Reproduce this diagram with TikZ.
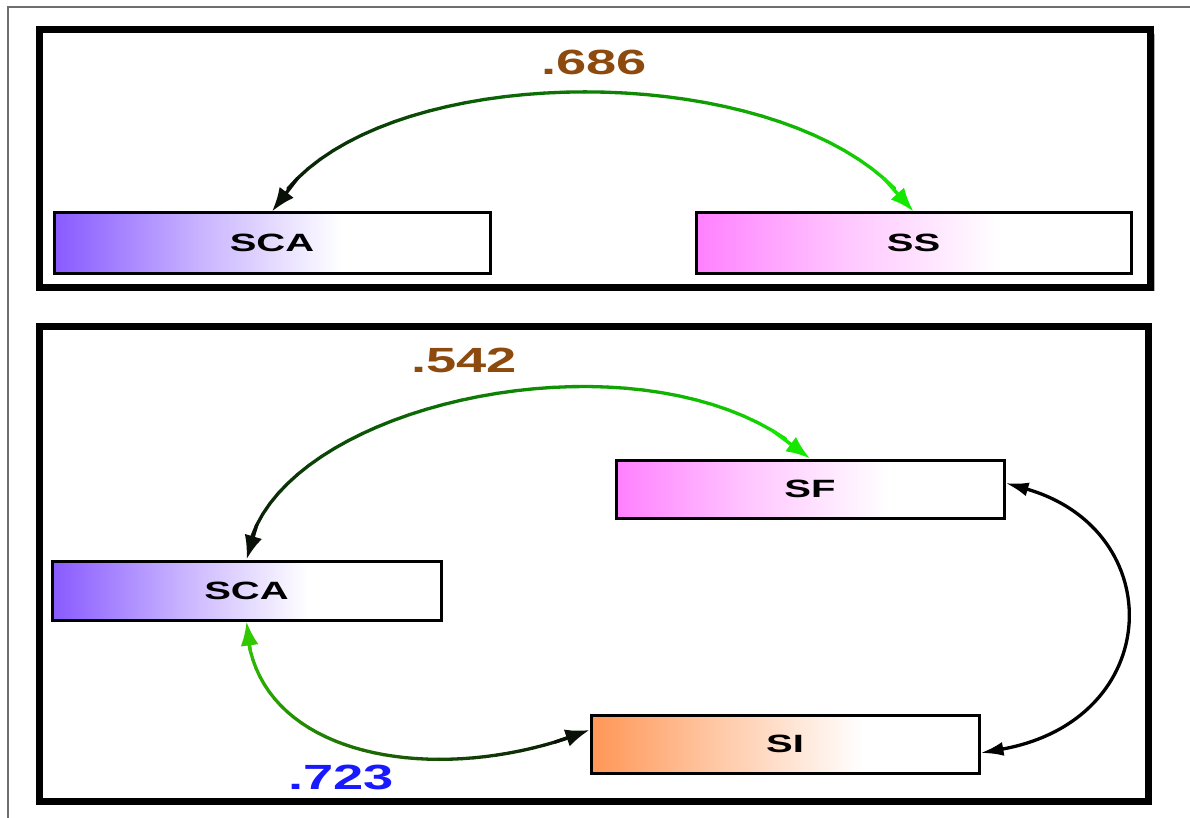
\documentclass[tikz,border=0pt]{standalone}
\usepackage{fontspec}
\setmainfont{Liberation Sans}
\usetikzlibrary{arrows.meta,calc,shadows}
\definecolor{brn}{RGB}{140,74,14}
\definecolor{blu}{RGB}{25,25,255}
\definecolor{purp}{RGB}{136,90,255}
\definecolor{pnk}{RGB}{255,128,255}
\definecolor{orng}{RGB}{255,150,85}
\definecolor{gbright}{RGB}{20,232,0}
\definecolor{gmid}{RGB}{50,200,0}
\definecolor{dk}{RGB}{8,16,8}
\definecolor{frm}{RGB}{110,110,110}
\pgfdeclarehorizontalshading{purpshade}{100bp}{color(0bp)=(purp); color(25bp)=(purp); color(42bp)=(purp!45!white); color(58bp)=(white); color(100bp)=(white)}
\pgfdeclarehorizontalshading{pnkshade}{100bp}{color(0bp)=(pnk); color(25bp)=(pnk); color(42bp)=(pnk!45!white); color(60bp)=(white); color(100bp)=(white)}
\pgfdeclarehorizontalshading{orngshade}{100bp}{color(0bp)=(orng); color(25bp)=(orng); color(42bp)=(orng!50!white); color(60bp)=(white); color(100bp)=(white)}
\newcommand{\LblS}[1]{\scalebox{1.6}[1]{#1}}
\newcommand{\NumS}[1]{\scalebox{1.55}[1]{#1}}
\tikzset{
  panel/.style={draw=black, line width=7pt, fill=white,
    drop shadow={shadow xshift=4pt, shadow yshift=-4pt, opacity=0.3, fill=black}},
  var/.style 2 args={draw=black, line width=3pt, minimum width=#1, minimum height=#2,
    inner sep=0pt, font=\bfseries\fontsize{25}{25}\selectfont},
  numtxt/.style={inner sep=0pt, font=\bfseries\fontsize{35}{35}\selectfont},
  arcline/.style={line width=3.3pt, line cap=round},
  tipstyle/.style={-{Latex[length=24pt,width=18pt]}}
}
\newcommand{\GradArc}[7]{%
  \path #2 .. controls #3 and #4 .. #5
    \foreach \k [evaluate=\k as \tq using \k/40] in {0,...,40}{coordinate[pos=\tq] (#1\k)};
  \foreach \k [evaluate=\k as \n using int(\k+1), evaluate=\k as \p using int(2.5*\k+1.25)] in {2,...,37}{
    \draw[arcline, draw=#7!\p!#6] (#1\k) -- (#1\n);}
  \draw[arcline, draw=#6, tipstyle] (#13) -- (#10);
  \draw[arcline, draw=#7, tipstyle] (#137) -- (#140);
}
\begin{document}
\begin{tikzpicture}[x=1pt, y=-1pt]
\useasboundingbox (0,0) rectangle (1190,818);
\fill[white] (0,0) rectangle (1190,818);
\draw[frm, line width=1.3pt] (8,830) -- (8,7) -- (1200,7);

% panels
\draw[panel] (39.5,30) rectangle (1150.5,287);
\draw[panel] (39.5,326) rectangle (1148,801);

% top panel
\node[var={436pt}{60pt}, shading=purpshade] (scaA) at (272,243) {\LblS{SCA}};
\node[var={435pt}{60pt}, shading=pnkshade] (ss) at (913.5,243) {\LblS{SS}};
\GradArc{ta}{(scaA.north)}{(360,52)}{(805,52)}{(ss.north)}{dk}{gbright}
\node[numtxt, text=brn] (n686) at (594,62) {\NumS{.686}};

% bottom panel
\node[var={389pt}{59pt}, shading=purpshade] (scaB) at (246.5,590.5) {\LblS{SCA}};
\node[var={388pt}{58pt}, shading=pnkshade] (sf) at (810,489) {\LblS{SF}};
\node[var={388pt}{58pt}, shading=orngshade] (si) at (785,744) {\LblS{SI}};

\GradArc{tb}{(scaB.north)}{(265,400)}{(660,318)}{(sf.north)}{dk}{gbright}
\GradArc{tc}{(scaB.south)}{(250,760)}{(440,790)}{([yshift=14pt]si.west)}{gmid}{dk}
\draw[arcline, black, {Latex[length=23pt,width=14pt]}-{Latex[length=23pt,width=14pt]}]
  ([yshift=6pt]sf.east) .. controls (1170,530) and (1165,720) .. ([yshift=-9pt]si.east);

\node[numtxt, text=brn] (n542) at (464,360) {\NumS{.542}};
\node[numtxt, text=blu] (n723) at (341,777) {\NumS{.723}};
\end{tikzpicture}
\end{document}
